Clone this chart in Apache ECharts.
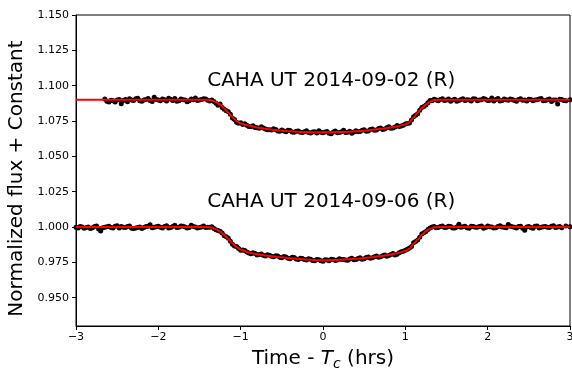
<!DOCTYPE html>
<html>
<head>
<meta charset="utf-8">
<script src="https://cdn.jsdelivr.net/npm/echarts@6/dist/echarts.min.js"></script>
<style>
  html, body { margin: 0; padding: 0; background: #fff; }
  #chart { width: 572px; height: 371px; }
</style>
</head>
<body>
<div id="chart"></div>
<script>
// Light curve 1: CAHA UT 2014-09-02 (R), offset by +0.09
const timeA = [-2.65,-2.60,-2.55,-2.50,-2.45,-2.40,-2.35,-2.30,-2.25,-2.20,-2.15,-2.10,-2.05,-2.00,-1.95,-1.90,-1.85,-1.80,-1.75,-1.70,-1.65,-1.60,-1.55,-1.50,-1.45,-1.40,
  -1.35,-1.30,-1.25,-1.20,-1.15,-1.10,-1.05,-1.00,-0.95,-0.90,-0.85,-0.80,-0.75,-0.70,-0.65,-0.60,-0.55,-0.50,-0.45,-0.40,-0.35,-0.30,-0.25,-0.20,-0.15,-0.10,-0.05,
  0.00,0.05,0.10,0.15,0.20,0.25,0.30,0.35,0.40,0.45,0.50,0.55,0.60,0.65,0.70,0.75,0.80,0.85,0.90,0.95,1.00,1.05,1.10,1.15,1.20,1.25,1.30,1.35,
  1.40,1.45,1.50,1.55,1.60,1.65,1.70,1.75,1.80,1.85,1.90,1.95,2.00,2.05,2.10,2.15,2.20,2.25,2.30,2.35,2.40,2.45,2.50,2.55,2.60,2.65,2.70,2.75,2.80,2.85,2.90,2.95,3.00];
const fluxA = [1.0905,1.0885,1.0893,1.0898,1.0872,1.0902,1.0908,1.0895,1.0911,1.0889,1.0903,1.0896,1.0918,1.0899,1.0906,1.0891,1.0904,1.0909,1.0894,1.0901,1.0887,1.0905,1.0912,1.0898,1.0908,1.0897,
  1.0899,1.0876,1.0870,1.0834,1.0815,1.0772,1.0742,1.0738,1.0731,1.0712,1.0716,1.0702,1.0709,1.0693,1.0688,1.0695,1.0679,1.0686,1.0675,1.0683,1.0671,1.0679,1.0668,1.0681,1.0666,1.0674,1.0682,
  1.0667,1.0676,1.0660,1.0679,1.0668,1.0684,1.0671,1.0663,1.0681,1.0676,1.0689,1.0680,1.0694,1.0687,1.0700,1.0693,1.0709,1.0701,1.0718,1.0714,1.0729,1.0736,1.0781,1.0802,1.0846,1.0863,1.0895,1.0904,
  1.0893,1.0907,1.0899,1.0889,1.0904,1.0896,1.0908,1.0901,1.0892,1.0905,1.0898,1.0910,1.0895,1.0913,1.0902,1.0891,1.0906,1.0897,1.0903,1.0890,1.0908,1.0899,1.0904,1.0893,1.0901,1.0910,1.0896,1.0905,1.0898,1.0871,1.0903,1.0894,1.0900];

// Extra exposures of light curve 1, between the ones above
const timeA2 = [-2.625,-2.575,-2.525,-2.475,-2.425,-2.375,-2.325,-2.275,-2.225,-2.175,-2.125,-2.075,-2.025,-1.975,-1.925,-1.875,-1.825,-1.775,-1.725,-1.675,-1.625,-1.575,-1.525,-1.475,-1.425,
  -1.375,-1.325,-1.275,-1.225,-1.175,-1.125,-1.075,-1.025,-0.975,-0.925,-0.875,-0.825,-0.775,-0.725,-0.675,-0.625,-0.575,-0.525,-0.475,-0.425,-0.375,-0.325,-0.275,-0.225,-0.175,-0.125,-0.075,-0.025,
  0.025,0.075,0.125,0.175,0.225,0.275,0.325,0.375,0.425,0.475,0.525,0.575,0.625,0.675,0.725,0.775,0.825,0.875,0.925,0.975,1.025,1.075,1.125,1.175,1.225,1.275,1.325,1.375,
  1.425,1.475,1.525,1.575,1.625,1.675,1.725,1.775,1.825,1.875,1.925,1.975,2.025,2.075,2.125,2.175,2.225,2.275,2.325,2.375,2.425,2.475,2.525,2.575,2.625,2.675,2.725,2.775,2.825,2.875,2.925,2.975];
const fluxA2 = [1.0889,1.0897,1.0884,1.0903,1.0895,1.0886,1.0899,1.0907,1.0893,1.0898,1.0910,1.0888,1.0902,1.0894,1.0900,1.0911,1.0896,1.0890,1.0905,1.0899,1.0893,1.0901,1.0895,1.0903,1.0906,
  1.0892,1.0888,1.0861,1.0845,1.0822,1.0798,1.0760,1.0734,1.0726,1.0720,1.0709,1.0705,1.0698,1.0701,1.0689,1.0686,1.0690,1.0678,1.0680,1.0684,1.0673,1.0677,1.0670,1.0675,1.0669,1.0673,1.0665,1.0671,
  1.0673,1.0664,1.0672,1.0667,1.0675,1.0669,1.0677,1.0672,1.0674,1.0684,1.0678,1.0690,1.0685,1.0697,1.0690,1.0703,1.0698,1.0707,1.0711,1.0720,1.0733,1.0757,1.0790,1.0826,1.0852,1.0879,1.0893,1.0898,
  1.0902,1.0895,1.0905,1.0898,1.0890,1.0903,1.0896,1.0899,1.0907,1.0893,1.0901,1.0904,1.0897,1.0892,1.0909,1.0895,1.0900,1.0906,1.0896,1.0903,1.0897,1.0891,1.0902,1.0898,1.0906,1.0893,1.0900,1.0888,1.0899,1.0904,1.0896];

// Light curve 2: CAHA UT 2014-09-06 (R)
const timeB = [-3.00,-2.95,-2.90,-2.85,-2.80,-2.75,-2.70,-2.65,-2.60,-2.55,-2.50,-2.45,-2.40,-2.35,-2.30,-2.25,-2.20,-2.15,-2.10,-2.05,-2.00,-1.95,-1.90,-1.85,-1.80,-1.75,-1.70,-1.65,-1.60,-1.55,-1.50,-1.45,-1.40,
  -1.35,-1.30,-1.25,-1.20,-1.15,-1.10,-1.05,-1.00,-0.95,-0.90,-0.85,-0.80,-0.75,-0.70,-0.65,-0.60,-0.55,-0.50,-0.45,-0.40,-0.35,-0.30,-0.25,-0.20,-0.15,-0.10,-0.05,
  0.00,0.05,0.10,0.15,0.20,0.25,0.30,0.35,0.40,0.45,0.50,0.55,0.60,0.65,0.70,0.75,0.80,0.85,0.90,0.95,1.00,1.05,1.10,1.15,1.20,1.25,1.30,
  1.35,1.40,1.45,1.50,1.55,1.60,1.65,1.70,1.75,1.80,1.85,1.90,1.95,2.00,2.05,2.10,2.15,2.20,2.25,2.30,2.35,2.40,2.45,2.50,2.55,2.60,2.65,2.70,2.75,2.80,2.85,2.90,2.95,3.00];
const fluxB = [0.9998,1.0004,0.9992,1.0001,0.9995,1.0007,0.9972,0.9999,1.0006,0.9994,1.0010,1.0003,0.9997,1.0008,0.9990,0.9996,0.9989,1.0004,1.0016,0.9998,1.0005,0.9993,1.0009,0.9997,1.0012,0.9999,1.0006,0.9994,1.0013,1.0001,0.9996,1.0007,0.9998,
  1.0002,0.9981,0.9970,0.9939,0.9921,0.9878,0.9862,0.9835,0.9834,0.9817,0.9819,0.9803,0.9810,0.9796,0.9801,0.9790,0.9795,0.9783,0.9788,0.9776,0.9784,0.9771,0.9778,0.9767,0.9773,0.9761,0.9769,
  0.9758,0.9767,0.9772,0.9763,0.9776,0.9770,0.9765,0.9779,0.9771,0.9782,0.9776,0.9788,0.9783,0.9795,0.9790,0.9803,0.9799,0.9812,0.9808,0.9826,0.9836,0.9851,0.9889,0.9908,0.9951,0.9969,0.9993,
  1.0004,0.9996,1.0008,0.9999,1.0003,0.9993,1.0019,1.0002,0.9995,1.0006,0.9998,1.0004,0.9992,1.0007,1.0001,0.9995,1.0009,0.9998,1.0018,1.0002,0.9994,1.0005,0.9978,1.0003,0.9992,1.0007,0.9999,1.0004,0.9996,1.0010,1.0001,0.9995,1.0008,1.0002];

// Extra exposures of light curve 2, between the ones above
const timeB2 = [-2.975,-2.925,-2.875,-2.825,-2.775,-2.725,-2.675,-2.625,-2.575,-2.525,-2.475,-2.425,-2.375,-2.325,-2.275,-2.225,-2.175,-2.125,-2.075,-2.025,-1.975,-1.925,-1.875,-1.825,-1.775,-1.725,-1.675,-1.625,-1.575,-1.525,-1.475,-1.425,
  -1.375,-1.325,-1.275,-1.225,-1.175,-1.125,-1.075,-1.025,-0.975,-0.925,-0.875,-0.825,-0.775,-0.725,-0.675,-0.625,-0.575,-0.525,-0.475,-0.425,-0.375,-0.325,-0.275,-0.225,-0.175,-0.125,-0.075,-0.025,
  0.025,0.075,0.125,0.175,0.225,0.275,0.325,0.375,0.425,0.475,0.525,0.575,0.625,0.675,0.725,0.775,0.825,0.875,0.925,0.975,1.025,1.075,1.125,1.175,1.225,1.275,1.325,
  1.375,1.425,1.475,1.525,1.575,1.625,1.675,1.725,1.775,1.825,1.875,1.925,1.975,2.025,2.075,2.125,2.175,2.225,2.275,2.325,2.375,2.425,2.475,2.525,2.575,2.625,2.675,2.725,2.775,2.825,2.875,2.925,2.975];
const fluxB2 = [0.9994,1.0001,0.9996,0.9990,1.0003,0.9986,0.9995,1.0002,0.9997,1.0005,0.9993,0.9999,1.0004,0.9991,0.9994,1.0001,0.9997,1.0006,0.9995,1.0002,0.9999,1.0004,0.9994,1.0003,0.9997,1.0008,1.0000,0.9996,1.0004,0.9993,1.0001,0.9997,
  0.9999,0.9990,0.9975,0.9958,0.9932,0.9900,0.9866,0.9848,0.9838,0.9824,0.9811,0.9813,0.9806,0.9800,0.9804,0.9793,0.9797,0.9786,0.9791,0.9779,0.9786,0.9774,0.9779,0.9771,0.9775,0.9764,0.9770,0.9762,
  0.9768,0.9761,0.9770,0.9767,0.9771,0.9766,0.9774,0.9768,0.9777,0.9773,0.9785,0.9779,0.9790,0.9786,0.9797,0.9794,0.9806,0.9803,0.9818,0.9828,0.9843,0.9862,0.9898,0.9928,0.9959,0.9982,1.0000,
  0.9995,1.0003,0.9997,1.0006,0.9994,1.0001,0.9998,1.0005,0.9992,1.0003,0.9999,1.0007,0.9996,1.0002,0.9993,1.0004,1.0000,0.9995,1.0006,0.9998,1.0003,0.9991,1.0001,0.9997,1.0005,0.9994,1.0002,0.9998,1.0006,0.9997,1.0003];

// Transit model curves
const modelTime = [-3.0,-1.40,-1.35,-1.30,-1.25,-1.20,-1.15,-1.10,-1.05,-1.00,-0.90,-0.80,-0.70,-0.60,-0.50,-0.40,-0.30,-0.20,-0.10,0.00,
  0.10,0.20,0.30,0.40,0.50,0.60,0.70,0.80,0.90,1.00,1.05,1.10,1.15,1.20,1.25,1.30,1.35,1.40,3.0];
const modelA = [1.0900,1.0900,1.0896,1.0886,1.0866,1.0840,1.0810,1.0779,1.0750,1.0733,1.0718,1.0705,1.0696,1.0688,1.0682,1.0678,1.0674,1.0672,1.0670,1.0670,
  1.0671,1.0672,1.0674,1.0678,1.0682,1.0688,1.0695,1.0703,1.0712,1.0726,1.0742,1.0775,1.0808,1.0840,1.0867,1.0887,1.0898,1.0900,1.0900];
const modelB = [1.0000,1.0000,0.9996,0.9986,0.9968,0.9945,0.9916,0.9886,0.9859,0.9841,0.9820,0.9808,0.9799,0.9792,0.9786,0.9780,0.9775,0.9770,0.9767,0.9765,
  0.9766,0.9768,0.9772,0.9775,0.9781,0.9787,0.9795,0.9803,0.9815,0.9830,0.9846,0.9880,0.9912,0.9945,0.9970,0.9988,0.9998,1.0000,1.0000];

const yTicks = [0.950, 0.975, 1.000, 1.025, 1.050, 1.075, 1.100, 1.125, 1.150];
const labels = [
  { text: 'CAHA UT 2014-09-02 (R)', t: 0.1, f: 1.1035 },
  { text: 'CAHA UT 2014-09-06 (R)', t: 0.1, f: 1.0178 }
];

const zip = (xs, ys) => xs.map((x, i) => [x, ys[i]]);
const FONT = '"DejaVu Sans", sans-serif';

const chart = echarts.init(document.getElementById('chart'), null, { renderer: 'canvas' });

const dots = (xs, ys) => ({
  type: 'scatter', data: zip(xs, ys), symbolSize: 5,
  itemStyle: { color: '#000', opacity: 1 }, z: 2
});

chart.setOption({
  animation: false,
  backgroundColor: '#fff',
  grid: { left: 76, right: 2, top: 15, bottom: 45, outerBoundsMode: 'none', containLabel: false,
    show: true, borderColor: '#000', borderWidth: 1, backgroundColor: 'transparent' },
  xAxis: {
    type: 'value', min: -3, max: 3, interval: 1,
    name: '{n|Time - }{i|T}{s|c}{n| (hrs)}',
    nameLocation: 'middle', nameGap: 21,
    nameTextStyle: {
      rich: {
        n: { fontFamily: FONT, fontSize: 20, color: '#000' },
        i: { fontFamily: FONT, fontSize: 20, fontStyle: 'italic', color: '#000' },
        s: { fontFamily: FONT, fontSize: 14, fontStyle: 'italic', color: '#000', padding: [10, 0, 0, 0] }
      }
    },
    axisLine: { onZero: false, lineStyle: { color: '#000', width: 1 } },
    axisTick: { length: 4, lineStyle: { color: '#000' } },
    axisLabel: { fontFamily: FONT, fontSize: 11, color: '#000', margin: 6,
      formatter: v => String(v).replace('-', '\u2212') },
    splitLine: { show: false }
  },
  yAxis: {
    type: 'value', min: 0.93, max: 1.15,
    name: 'Normalized flux + Constant',
    nameLocation: 'middle', nameGap: 48,
    nameTextStyle: { fontFamily: FONT, fontSize: 20, color: '#000', padding: [0, 16, 0, 0] },
    axisLine: { show: true, onZero: false, lineStyle: { color: '#000', width: 1 } },
    axisTick: { show: true, length: 4, customValues: yTicks, lineStyle: { color: '#000' } },
    axisLabel: { fontFamily: FONT, fontSize: 11, color: '#000', margin: 7, customValues: yTicks,
      formatter: v => v.toFixed(3) },
    splitLine: { show: false }
  },
  series: [
    dots(timeA, fluxA),
    dots(timeA2, fluxA2),
    dots(timeB, fluxB),
    dots(timeB2, fluxB2),
    { type: 'line', data: zip(modelTime, modelA), showSymbol: false, smooth: 0.3, smoothMonotone: 'x',
      lineStyle: { color: '#ff0000', width: 2 }, z: 3 },
    { type: 'line', data: zip(modelTime, modelB), showSymbol: false, smooth: 0.3, smoothMonotone: 'x',
      lineStyle: { color: '#ff0000', width: 2 }, z: 3 }
  ]
});

// Place the two light-curve captions at their data positions
chart.setOption({
  graphic: labels.map(l => {
    const p = chart.convertToPixel({ gridIndex: 0 }, [l.t, l.f]);
    return {
      type: 'text', x: p[0], y: p[1], z: 10,
      style: { text: l.text, fontFamily: FONT, fontSize: 20, fill: '#000', align: 'center', verticalAlign: 'middle' }
    };
  })
});
</script>
</body>
</html>
